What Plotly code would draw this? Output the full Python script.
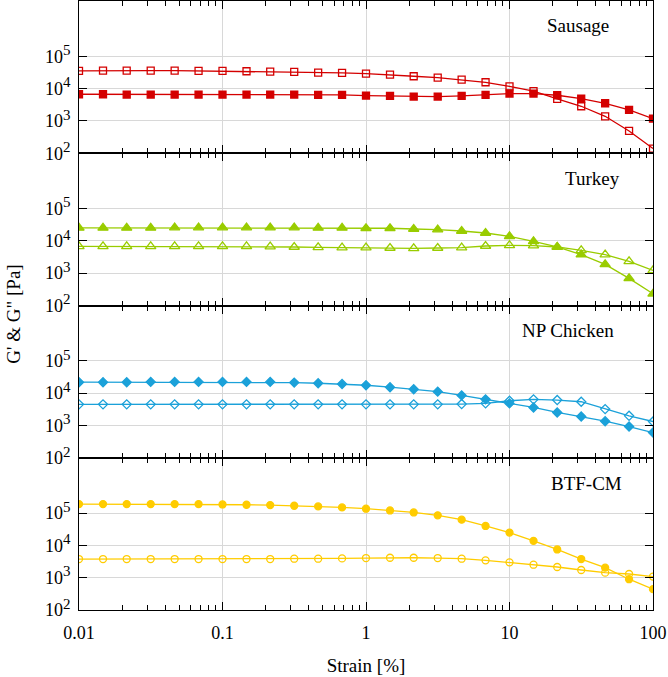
import plotly.graph_objects as go
from plotly.subplots import make_subplots

strain = [0.01, 0.0147, 0.0215, 0.0316, 0.0464, 0.0681, 0.1, 0.147, 0.215, 0.316,
          0.464, 0.681, 1, 1.47, 2.15, 3.16, 4.64, 6.81, 10, 14.7, 21.5, 31.6, 46.4, 68.1, 100]

sausage_open = [35200, 36000, 36000, 36000, 36000, 35200, 35200, 34400, 33600, 32700,
                31300, 30500, 29200, 27200, 24100, 21900, 19000, 15700, 11800, 8300,
                4800, 2840, 1390, 490, 140]
sausage_fill = [6690, 6690, 6530, 6530, 6530, 6530, 6530, 6530, 6530, 6530,
                6380, 6380, 6080, 5940, 5660, 5660, 5940, 6380, 7000, 7000,
                6230, 4900, 3520, 2190, 1180]

turkey_fill = [25100, 25100, 25100, 25100, 25700, 25700, 25700, 25700, 25700, 25700,
               25100, 25100, 24500, 24500, 23300, 22300, 20200, 17500, 13800, 9700,
               6460, 3730, 1870, 689, 230]
turkey_open = [6780, 6780, 6780, 6780, 6780, 6780, 6780, 6780, 6600, 6460,
               6300, 6160, 6160, 6000, 5870, 6000, 6160, 6940, 7280, 7100,
               6460, 5080, 3730, 2320, 1220]

chicken_fill = [21700, 21700, 21700, 22200, 22200, 22200, 22200, 22200, 22200, 21100,
                20200, 19200, 17500, 15200, 13100, 11100, 8500, 6400, 4800, 3600,
                2520, 1890, 1350, 925, 601]
chicken_open = [4480, 4480, 4480, 4480, 4480, 4480, 4480, 4480, 4480, 4480,
                4480, 4480, 4480, 4480, 4480, 4480, 4570, 4810, 5800, 6400,
                6100, 5400, 3200, 1980, 1320]

btf_fill = [189000, 189000, 189000, 189000, 189000, 189000, 184000, 180000, 176000, 168000,
            160000, 149000, 136000, 120000, 104000, 84600, 62200, 39800, 24800, 13800,
            7460, 3770, 2040, 896, 442]
btf_open = [3770, 3770, 3770, 3770, 3770, 3770, 3770, 3770, 3770, 3860,
            3860, 3950, 4050, 4140, 4140, 4050, 3860, 3430, 2980, 2520,
            2140, 1730, 1430, 1300, 1080]

panel_names = ["Sausage", "Turkey", "NP Chicken", "BTF-CM"]
panel_colors = ["#d40000", "#99cc00", "#1ba1d9", "#ffcc00"]
panel_series = [
    [(sausage_open, "square-open", 7), (sausage_fill, "square", 7)],
    [(turkey_fill, "triangle-up", 9), (turkey_open, "triangle-up-open", 9)],
    [(chicken_fill, "diamond", 7), (chicken_open, "diamond-open", 7)],
    [(btf_fill, "circle", 7), (btf_open, "circle-open", 7)],
]
label_pos = [(0.869, 0.842), (0.895, 0.835), (0.852, 0.835), (0.885, 0.83)]

y_tickvals = [1e2, 1e3, 1e4, 1e5]
y_exps = ["2", "3", "4", "5"]
y_ticktext = [f"10<sup><span style='font-size:15px'>{e}</span></sup>" for e in y_exps]

fig = make_subplots(rows=4, cols=1, shared_xaxes=True, vertical_spacing=0)

serif = "Liberation Serif, Times New Roman, serif"

for i in range(4):
    row = i + 1
    col = panel_colors[i]
    for vals, sym, sz in panel_series[i]:
        fig.add_trace(go.Scatter(
            x=strain, y=vals, mode="lines+markers",
            line=dict(color=col, width=1.3),
            marker=dict(symbol=sym, size=sz, color=col,
                        line=dict(color=col, width=1.3)),
            showlegend=False), row=row, col=1)
    fig.update_yaxes(type="log", range=[2, 6.71], tickvals=y_tickvals, ticktext=y_ticktext,
                     ticks="inside", ticklen=8, tickwidth=1, tickcolor="black",
                     showline=True, linecolor="black", linewidth=1, mirror="ticks",
                     showgrid=True, gridcolor="#d8d8d8", gridwidth=1,
                     zeroline=False, ticklabelstandoff=4,
                     tickfont=dict(family=serif, size=18, color="black"),
                     row=row, col=1)
    fig.update_xaxes(type="log", range=[-2, 2], dtick=1, tick0=0,
                     ticks="inside", ticklen=8, tickwidth=1, tickcolor="black",
                     minor=dict(dtick="D1", ticks="inside", ticklen=5,
                                tickcolor="black", tickwidth=1, showgrid=False),
                     showline=True, linecolor="black", linewidth=1, mirror="ticks",
                     showgrid=True, gridcolor="#d8d8d8", gridwidth=1,
                     zeroline=False, exponentformat="none", separatethousands=False,
                     tickfont=dict(family=serif, size=18, color="black"),
                     row=row, col=1)
    xr = "x domain" if i == 0 else f"x{row} domain"
    yr = "y domain" if i == 0 else f"y{row} domain"
    fig.add_annotation(text=panel_names[i], xref=xr, yref=yr,
                       x=label_pos[i][0], y=label_pos[i][1], showarrow=False,
                       xanchor="center", yanchor="middle",
                       font=dict(family=serif, size=19, color="black"))

fig.update_xaxes(showticklabels=True, ticklabelstandoff=6,
                 title=dict(text="Strain [%]", standoff=17,
                            font=dict(family=serif, size=19, color="black")),
                 row=4, col=1)

fig.add_annotation(text="G' &amp; G\" [Pa]", xref="paper", yref="paper",
                   x=(14 - 79) / 574, y=0.485, textangle=-90, showarrow=False,
                   xanchor="center", yanchor="middle",
                   font=dict(family=serif, size=19, color="black"))

fig.update_layout(width=668, height=677,
                  margin=dict(l=79, r=15, t=1, b=67),
                  plot_bgcolor="white", paper_bgcolor="white",
                  showlegend=False)

fig.write_html("out.html", config={"displayModeBar": False},
               post_script="document.body.style.margin='0';document.body.style.overflow='hidden';")
